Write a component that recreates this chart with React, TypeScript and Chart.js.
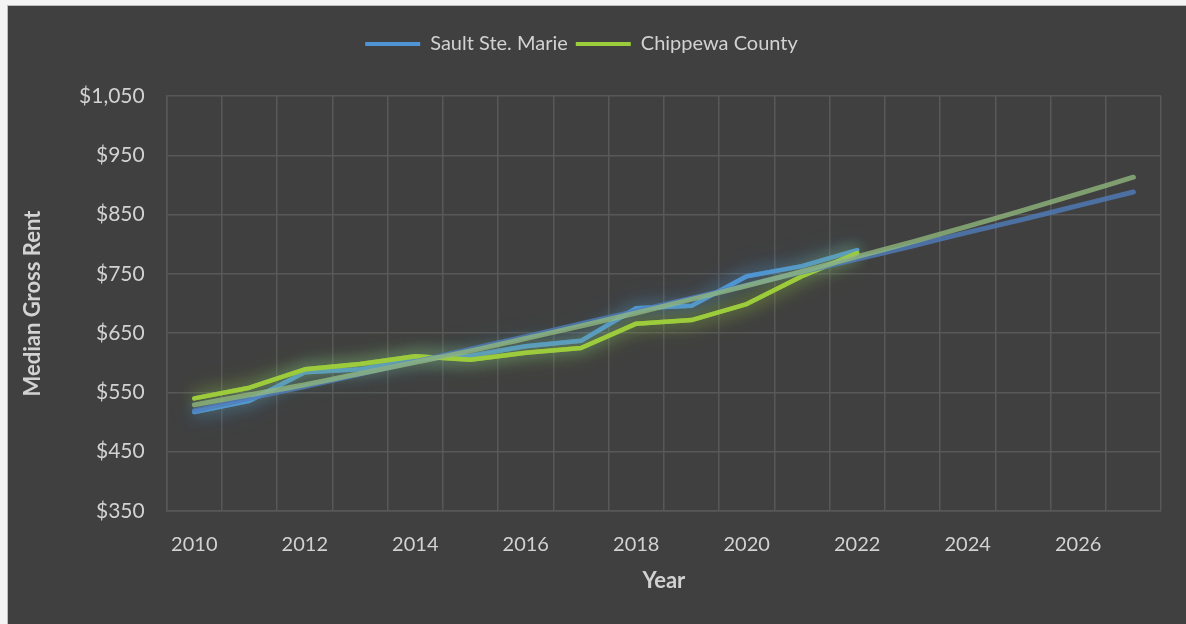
import React, { useEffect, useRef } from 'react';
import { Chart, registerables } from 'chart.js';

Chart.register(...registerables);

// ---- data ----
const years = [
  '2010', '2011', '2012', '2013', '2014', '2015', '2016', '2017', '2018',
  '2019', '2020', '2021', '2022', '2023', '2024', '2025', '2026', '2027',
];
const saultSteMarie = [517, 536, 584, 589, 606, 612, 628, 637, 692, 696, 746, 763, 790, null, null, null, null, null];
const chippewaCounty = [540, 558, 589, 598, 611, 605, 617, 625, 666, 672, 699, 746, 785, null, null, null, null, null];
const saultTrend = [519, 540, 560, 581, 602, 623, 644, 666, 687, 709, 731, 753, 775, 797, 820, 842, 865, 888];
const chippewaTrend = [529, 546, 563, 582, 601, 620, 641, 662, 684, 707, 730, 754, 779, 804, 830, 857, 885, 913];
const seriesNames = ['Sault Ste. Marie', 'Chippewa County'];
const yTicks = { min: 350, max: 1050, step: 100 };

// ---- styles ----
const FONT = 'Lato, "Open Sans", sans-serif';
const TEXT = '#d2d2d2';
const GRID = '#585858';
const BLUE = '#4f95d6';
const GREEN = '#9ccb3c';
const GLOW: Record<number, string> = { 0: 'rgba(79,149,214,0.8)', 1: 'rgba(156,203,60,0.75)' };
const LEGEND_HEIGHT = 70;
const LEGEND_SHIFT = -3;

const glowPlugin = {
  id: 'glow',
  beforeDatasetDraw(chart: any, args: any) {
    const c = GLOW[args.index];
    if (!c) return;
    const ctx = chart.ctx;
    // extra soft halo pass
    ctx.save();
    ctx.shadowColor = c;
    ctx.shadowBlur = 26;
    ctx.globalAlpha = 0.6;
    args.meta.dataset.draw(ctx, chart.chartArea);
    ctx.restore();
    ctx.save();
    ctx.shadowColor = c;
    ctx.shadowBlur = 16;
  },
  afterDatasetDraw(chart: any, args: any) {
    if (!GLOW[args.index]) return;
    chart.ctx.restore();
  },
};

const legendLayout = {
  id: 'legendLayout',
  beforeLayout(chart: any) {
    const lg = chart.legend;
    if (lg && !lg.__patched) {
      const fit = lg.fit;
      lg.fit = function () {
        fit.call(this);
        this.height = LEGEND_HEIGHT;
      };
      lg.__patched = true;
    }
  },
  afterLayout(chart: any) {
    const lg = chart.legend;
    if (lg) {
      lg.left += LEGEND_SHIFT;
      lg.right += LEGEND_SHIFT;
    }
  },
};

export default function App() {
  const ref = useRef<HTMLCanvasElement>(null);

  useEffect(() => {
    if (!ref.current) return;
    const chart = new Chart(ref.current, {
      type: 'line',
      data: {
        labels: years,
        datasets: [
          {
            label: seriesNames[0],
            data: saultSteMarie,
            borderColor: BLUE,
            backgroundColor: BLUE,
            borderWidth: 4.5,
            pointRadius: 0,
            tension: 0,
            borderJoinStyle: 'round',
            borderCapStyle: 'round',
            order: 4,
          },
          {
            label: seriesNames[1],
            data: chippewaCounty,
            borderColor: GREEN,
            backgroundColor: GREEN,
            borderWidth: 4.5,
            pointRadius: 0,
            tension: 0,
            borderJoinStyle: 'round',
            borderCapStyle: 'round',
            order: 3,
          },
          {
            label: 'trend1',
            data: saultTrend,
            borderColor: 'rgba(80,125,190,0.78)',
            borderWidth: 5,
            pointRadius: 0,
            cubicInterpolationMode: 'monotone',
            borderCapStyle: 'round',
            order: 2,
          },
          {
            label: 'trend2',
            data: chippewaTrend,
            borderColor: 'rgba(145,185,125,0.78)',
            borderWidth: 5,
            pointRadius: 0,
            cubicInterpolationMode: 'monotone',
            borderCapStyle: 'round',
            order: 1,
          },
        ] as any,
      },
      options: {
        responsive: false,
        animation: false,
        layout: { padding: { top: 20, left: 0, right: 25, bottom: 0 } },
        plugins: {
          tooltip: { enabled: false },
          legend: {
            position: 'top',
            labels: {
              color: TEXT,
              font: { family: FONT, size: 20 },
              boxWidth: 55,
              boxHeight: 4,
              padding: 8,
              filter: (item: any) => item.datasetIndex < 2,
              sort: (a: any, b: any) => a.datasetIndex - b.datasetIndex,
              generateLabels: (c: any) =>
                Chart.defaults.plugins.legend.labels.generateLabels(c).map((it: any) => ({
                  ...it,
                  lineWidth: 0,
                  fillStyle: it.strokeStyle,
                })),
            },
          },
        },
        scales: {
          x: {
            type: 'category',
            offset: true,
            grid: { color: GRID, lineWidth: 1.5, offset: true, drawTicks: false },
            border: { color: GRID, width: 1.5 },
            ticks: {
              color: TEXT,
              font: { family: FONT, size: 20 },
              autoSkip: false,
              maxRotation: 0,
              padding: 22,
              callback: (_v: any, i: number) => (i % 2 === 0 ? years[i] : ''),
            },
            title: {
              display: true,
              text: 'Year',
              color: TEXT,
              font: { family: FONT, size: 22, weight: 'bold' },
              padding: { top: 0, bottom: 30 },
            },
            afterFit: (s: any) => {
              s.height = 113;
            },
          },
          y: {
            min: yTicks.min,
            max: yTicks.max,
            grid: { color: GRID, lineWidth: 1.5, drawTicks: false },
            border: { color: GRID, width: 1.5 },
            ticks: {
              stepSize: yTicks.step,
              color: TEXT,
              font: { family: FONT, size: 21 },
              padding: 22,
              callback: (v: any) => '$' + Number(v).toLocaleString('en-US'),
            },
            title: {
              display: true,
              text: 'Median Gross Rent',
              color: TEXT,
              font: { family: FONT, size: 22, weight: 'bold' },
              padding: { top: 12, bottom: 0 },
            },
            afterFit: (s: any) => {
              s.width = 158.7;
            },
          },
        },
      } as any,
      plugins: [glowPlugin, legendLayout],
    });
    return () => chart.destroy();
  }, []);

  return (
    <div
      style={{
        position: 'fixed',
        left: 0,
        top: 0,
        width: 1186,
        height: 624,
        background: '#f4f4f4',
        overflow: 'hidden',
      }}
    >
      <div
        style={{
          position: 'absolute',
          left: 7,
          top: 5,
          width: 1179,
          height: 619,
          borderLeft: '1px solid #bdbdbd',
          borderTop: '1px solid #bdbdbd',
          background: '#404040',
          boxSizing: 'border-box',
        }}
      />
      <canvas
        ref={ref}
        width={1178}
        height={618}
        style={{ position: 'absolute', left: 8, top: 6, width: 1178, height: 618, display: 'block' }}
      />
    </div>
  );
}
